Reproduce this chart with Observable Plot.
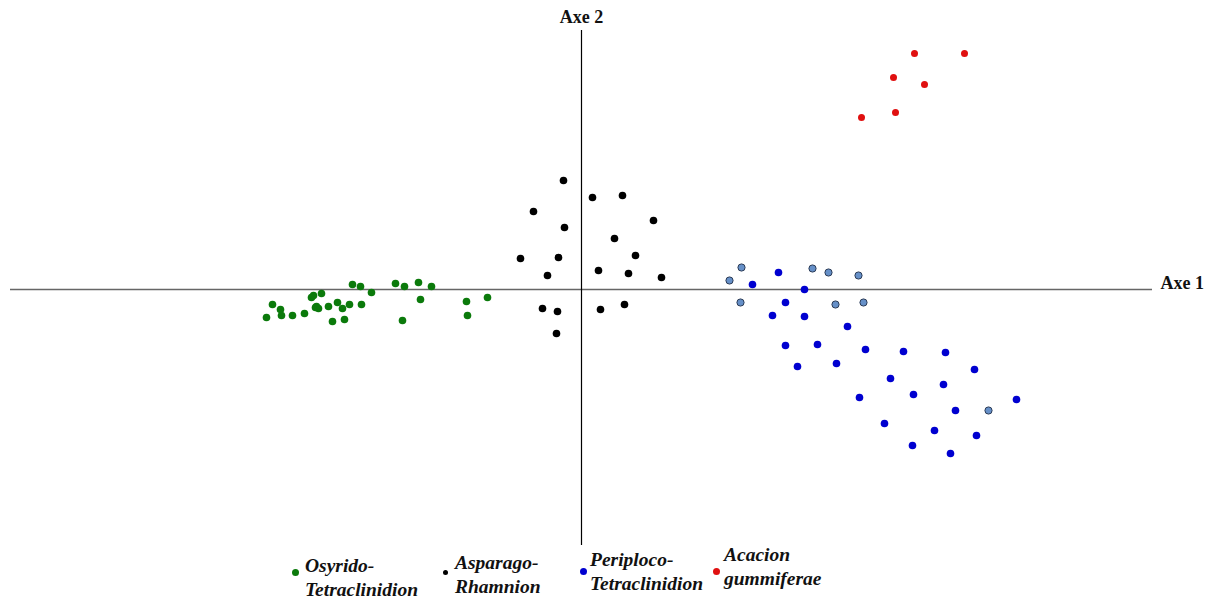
<!DOCTYPE html>
<html>
<head>
<meta charset="utf-8">
<script src="https://cdn.jsdelivr.net/npm/d3@7"></script>
<script src="https://cdn.jsdelivr.net/npm/@observablehq/plot@0.6"></script>
<style>
  body { margin: 0; background: #fff; }
  #chart svg { display: block; }
  #legend { position: relative; width: 1221px; height: 49px; font-family: "Liberation Serif", "Times New Roman", serif; font-weight: bold; font-style: italic; font-size: 19.5px; color: #111; }
  .item { position: absolute; line-height: 24px; }
  .item .dot { position: absolute; width: 7px; height: 7px; border-radius: 50%; }
  .item .lbl { position: absolute; white-space: nowrap; }
</style>
</head>
<body>
<div id="chart"></div>
<div id="legend"></div>
<script>
// Axis 1 / Axis 2 coordinates
const osyridoX = [-3.15,-3.09,-3.01,-3.00,-2.89,-2.77,-2.70,-2.68,-2.60,-2.66,-2.63,-2.65,-2.53,-2.49,-2.44,-2.39,-2.37,-2.32,-2.29,-2.21,-2.20,-2.10,-1.86,-1.77,-1.79,-1.63,-1.61,-1.50,-1.15,-1.14,-0.94];
const osyridoY = [-0.28,-0.15,-0.20,-0.26,-0.26,-0.24,-0.08,-0.06,-0.04,-0.18,-0.19,-0.17,-0.17,-0.32,-0.13,-0.19,-0.30,-0.15,0.05,0.03,-0.15,-0.03,0.06,0.03,-0.31,0.07,-0.10,0.03,-0.12,-0.26,-0.08];

const asparagoX = [-0.18,-0.48,0.11,0.41,0.72,-0.17,0.33,-0.61,-0.23,0.54,-0.34,0.17,0.47,0.80,-0.39,-0.24,-0.25,0.19,0.43];
const asparagoY = [1.09,0.78,0.92,0.94,0.69,0.62,0.51,0.31,0.32,0.34,0.14,0.19,0.16,0.12,-0.19,-0.22,-0.44,-0.20,-0.15];

const periplocoX = [1.97,1.71,2.23,2.04,1.91,2.23,2.66,2.04,2.36,2.84,3.22,3.64,2.16,2.55,3.93,3.09,3.62,2.78,3.32,4.35,3.74,3.03,3.53,3.95,3.31,3.69];
const periplocoY = [0.17,0.05,0.00,-0.13,-0.26,-0.27,-0.37,-0.56,-0.55,-0.60,-0.62,-0.63,-0.77,-0.74,-0.80,-0.89,-0.95,-1.08,-1.05,-1.10,-1.21,-1.34,-1.41,-1.46,-1.56,-1.64];

const periplocoOutlinedX = [1.60,1.48,2.31,2.47,2.77,1.59,2.54,2.82,4.07];
const periplocoOutlinedY = [0.22,0.09,0.21,0.17,0.14,-0.13,-0.15,-0.13,-1.21];

const acacionX = [3.33,3.83,3.12,3.43,3.14,2.80];
const acacionY = [2.36,2.36,2.12,2.05,1.77,1.72];

const groupNames = ["Osyrido-\nTetraclinidion", "Asparago-\nRhamnion", "Periploco-\nTetraclinidion", "Acacion\ngummiferae"];
const groupColors = ["#0b7a0b", "#000000", "#0000d0", "#e01010"];
const axisLabels = ["Axe 1", "Axe 2"];

const pts = (xs, ys, g) => xs.map((x, i) => ({x, y: ys[i], g}));
const dataOsy = pts(osyridoX, osyridoY, 0);
const dataAsp = pts(asparagoX, asparagoY, 1);
const dataPer = pts(periplocoX, periplocoY, 2);
const dataPerO = pts(periplocoOutlinedX, periplocoOutlinedY, 2);
const dataAca = pts(acacionX, acacionY, 3);

const font = "Liberation Serif, Times New Roman, serif";

const chart = Plot.plot({
  width: 1221,
  height: 550,
  marginLeft: 10,
  marginRight: 69,
  marginTop: 30,
  marginBottom: 5,
  x: {domain: [-5.71, 5.71], axis: null},
  y: {domain: [-2.56, 2.59], axis: null},
  style: {background: "#fff"},
  marks: [
    Plot.ruleY([0], {stroke: "#666", strokeWidth: 1.5}),
    Plot.ruleX([0], {stroke: "#000", strokeWidth: 1.2}),
    Plot.dot(dataOsy, {x: "x", y: "y", r: 3.8, fill: groupColors[0], stroke: "none"}),
    Plot.dot(dataAsp, {x: "x", y: "y", r: 3.8, fill: groupColors[1], stroke: "none"}),
    Plot.dot(dataPer, {x: "x", y: "y", r: 3.8, fill: groupColors[2], stroke: "none"}),
    Plot.dot(dataPerO, {x: "x", y: "y", r: 3.6, fill: "#6690c8", stroke: "#2a3a55", strokeWidth: 1}),
    Plot.dot(dataAca, {x: "x", y: "y", r: 3.5, fill: groupColors[3], stroke: "none"}),
    Plot.text([axisLabels[1]], {text: d => d, frameAnchor: "top", dy: -20, fontFamily: font, fontWeight: "bold", fontSize: 18, fill: "#111"}),
    Plot.text([axisLabels[0]], {text: d => d, frameAnchor: "right", textAnchor: "start", dx: 8, dy: -5, fontFamily: font, fontWeight: "bold", fontSize: 18, fill: "#111"})
  ]
});
document.getElementById("chart").appendChild(chart);

// Legend below the plot
const legendPos = [
  {left: 292, top: 4, dotTop: 15, lblLeft: 13},
  {left: 443, top: 1, dotTop: 19, lblLeft: 12},
  {left: 580, top: -2, dotTop: 20, lblLeft: 10},
  {left: 713, top: -7, dotTop: 25, lblLeft: 11}
];
const legend = document.getElementById("legend");
groupNames.forEach((name, i) => {
  const it = document.createElement("div");
  it.className = "item";
  it.style.left = legendPos[i].left + "px";
  it.style.top = legendPos[i].top + "px";
  const dot = document.createElement("span");
  dot.className = "dot";
  dot.style.background = groupColors[i];
  dot.style.left = "0px";
  dot.style.top = legendPos[i].dotTop + "px";
  if (i === 1) { dot.style.width = "5px"; dot.style.height = "5px"; }
  const lbl = document.createElement("span");
  lbl.className = "lbl";
  lbl.style.left = legendPos[i].lblLeft + "px";
  lbl.style.top = "0px";
  lbl.innerHTML = name.split("\n").join("<br>");
  it.appendChild(dot);
  it.appendChild(lbl);
  legend.appendChild(it);
});
</script>
</body>
</html>
